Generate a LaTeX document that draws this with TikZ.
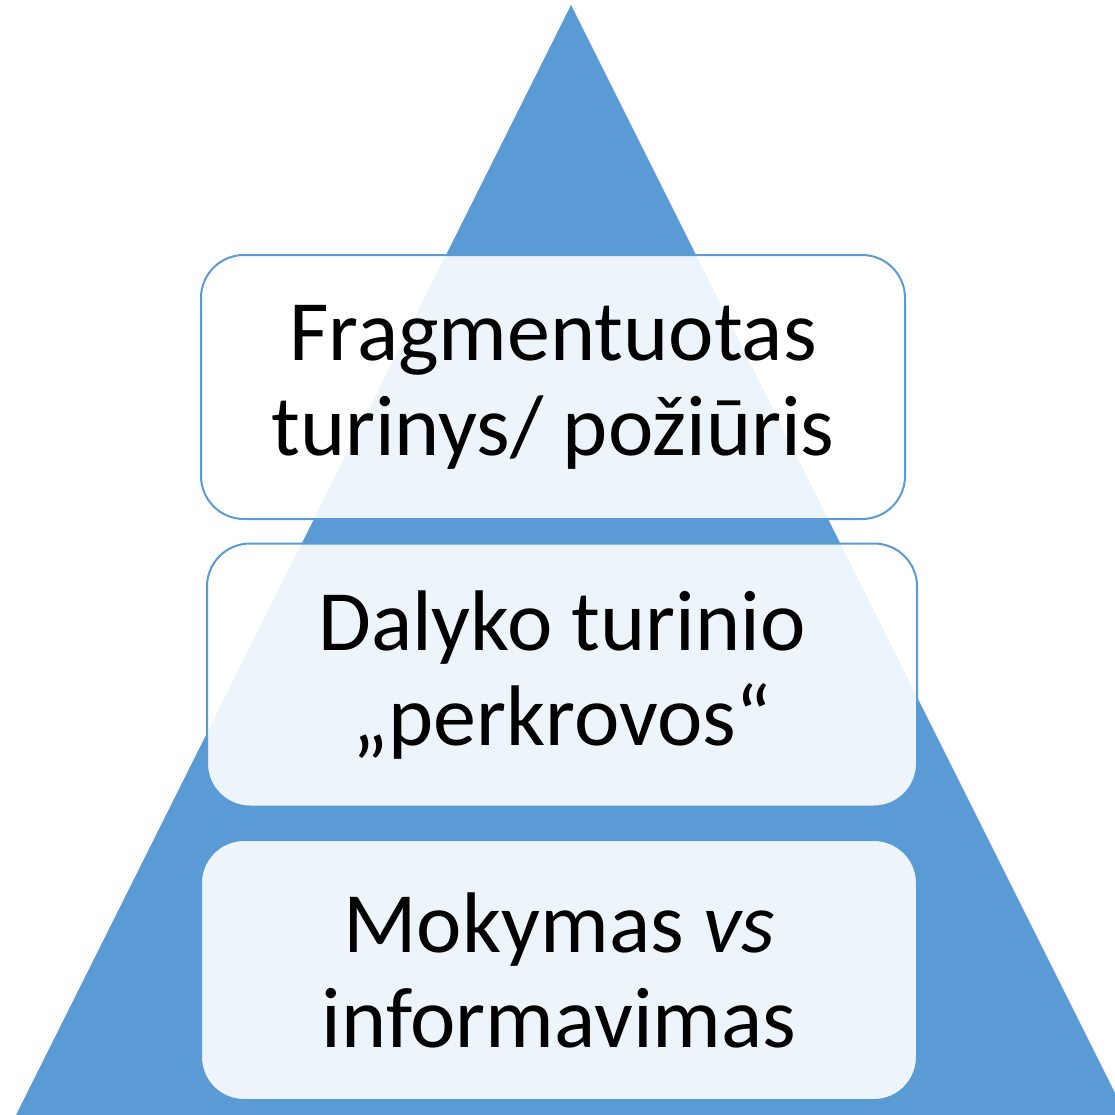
\documentclass[tikz,border=0pt]{standalone}
\usepackage{fontspec}
\setmainfont{Carlito}
\definecolor{tri}{HTML}{5B9BD5}
\begin{document}
\begin{tikzpicture}[x=1pt,y=-1pt,
  layer/.style={draw=tri, line width=2pt, fill=white, fill opacity=0.9, text opacity=1,
    rounded corners=43pt, inner sep=0pt, align=center,
    font=\fontsize{86}{95}\selectfont}]
\useasboundingbox (0,0) rectangle (1115,1115);
\clip (0,0) rectangle (1115,1115);
\fill[tri] (571,5) coordinate (apex) -- (16,1115) -- (1126,1115) -- cycle;
\node[layer, minimum width=704pt, minimum height=264pt] (l1) at (553,387) {Fragmentuotas\\turinys/ požiūris};
\node[layer, minimum width=710pt, minimum height=263pt] (l2) at (562,675) {Dalyko turinio\\„perkrovos“};
\node[layer, minimum width=716pt, minimum height=260pt] (l3) at (559,970) {Mokymas \textit{vs}\\informavimas};
\end{tikzpicture}
\end{document}
